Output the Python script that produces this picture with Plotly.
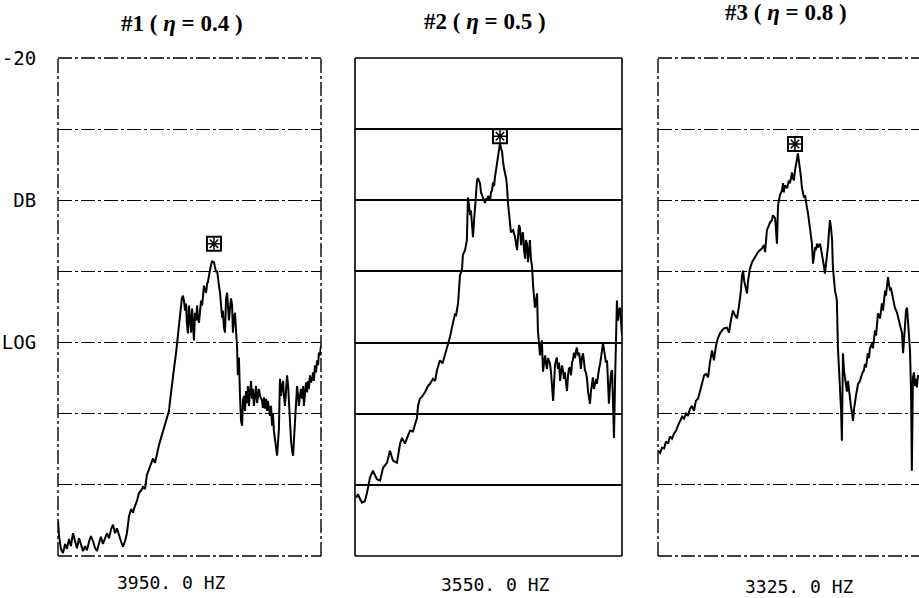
import plotly.graph_objects as go

# ---------------- data (x: % of analyser span, y: level in dB) ----------------
p1_x = [0.0, 0.4, 1.1, 1.9, 2.7, 3.4, 4.2, 4.9, 5.7, 6.5, 7.2, 8.0, 8.7, 9.5, 10.3, 11.0, 11.8, 12.5, 13.3, 14.1,
        14.8, 15.6, 16.3, 17.1, 17.9, 18.6, 19.4, 20.2, 20.9, 21.7, 22.4, 23.2, 24.0, 24.7, 25.5, 26.2, 27.0, 27.8,
        28.5, 29.3, 30.0, 30.8, 31.6, 32.3, 33.1, 33.8, 34.6, 35.3, 36.1, 36.9, 37.6, 38.4, 39.1, 39.9, 40.7, 41.4,
        42.2, 42.6, 43.0, 43.3, 44.1, 44.9, 45.6, 46.4, 46.8, 47.1, 47.5, 47.9, 48.3, 48.7, 49.0, 49.4, 49.8, 50.2,
        50.6, 51.0, 51.3, 51.7, 52.1, 52.5, 52.9, 53.2, 53.6, 54.0, 54.4, 54.8, 55.1, 55.5, 55.9, 56.3, 56.7, 57.0,
        57.4, 57.8, 58.2, 58.6, 58.9, 59.3, 59.7, 60.1, 60.5, 60.8, 61.2, 61.6, 62.0, 62.4, 62.7, 63.1, 63.5, 63.9,
        64.3, 64.6, 65.0, 65.4, 65.8, 66.2, 66.5, 66.9, 67.3, 67.7, 68.1, 68.4, 68.8, 69.2, 69.6, 70.0, 70.3, 70.7,
        71.1, 71.5, 71.9, 72.2, 72.6, 73.0, 73.4, 73.8, 74.1, 74.5, 74.9, 75.3, 75.7, 76.0, 76.4, 76.8, 77.6, 77.9,
        78.3, 78.7, 79.1, 79.5, 79.8, 80.6, 81.0, 81.4, 81.7, 82.1, 82.5, 82.9, 83.3, 83.7, 84.0, 84.4, 84.8, 85.2,
        85.6, 85.9, 86.3, 86.7, 87.1, 87.5, 87.8, 88.2, 88.6, 89.0, 89.4, 89.7, 90.1, 90.5, 90.9, 91.3, 91.6, 92.0,
        92.4, 92.8, 93.2, 93.5, 93.9, 94.3, 94.7, 95.1, 95.4, 95.8, 96.2, 96.6, 97.0, 97.3, 97.7, 98.1, 98.5, 98.9,
        99.2, 99.6, 100.0]
p1_db = [-85.1, -87.2, -89.0, -89.6, -88.3, -89.0, -87.6, -88.6, -86.8, -87.9, -88.9, -87.5, -88.3, -89.3, -88.6,
         -89.2, -88.0, -87.2, -87.9, -88.9, -89.3, -88.2, -87.3, -88.3, -87.6, -86.8, -87.5, -86.2, -85.6, -86.8,
         -86.1, -87.2, -88.0, -88.7, -87.9, -86.8, -84.4, -83.4, -83.9, -82.9, -82.3, -81.1, -80.8, -80.3, -80.6,
         -78.6, -77.7, -76.9, -76.3, -76.9, -75.5, -74.4, -73.5, -72.4, -71.4, -70.7, -69.6, -68.2, -66.8, -65.6,
         -63.7, -61.4, -59.0, -56.6, -54.8, -53.8, -53.4, -54.1, -55.5, -54.5, -57.2, -58.7, -54.8, -56.6, -58.6,
         -55.2, -57.6, -59.7, -55.8, -56.9, -54.8, -56.6, -57.2, -55.5, -54.1, -54.8, -53.0, -52.0, -52.7, -53.0,
         -51.7, -51.5, -50.6, -49.6, -49.1, -48.5, -48.7, -48.7, -49.3, -50.1, -49.9, -51.3, -52.0, -53.0, -54.8,
         -56.5, -55.5, -57.9, -58.6, -53.8, -53.0, -54.8, -56.9, -55.2, -53.8, -54.8, -58.6, -56.6, -55.8, -58.3,
         -60.8, -64.6, -62.1, -67.5, -71.0, -71.7, -68.2, -67.5, -69.6, -66.8, -68.5, -66.1, -68.9, -67.0, -65.4,
         -67.9, -66.5, -68.9, -67.5, -66.1, -68.5, -67.6, -66.5, -67.5, -68.2, -69.2, -67.7, -69.3, -67.9, -69.6,
         -68.2, -70.3, -68.9, -71.7, -69.9, -72.4, -73.8, -74.9, -75.9, -73.8, -72.1, -65.1, -67.5, -66.1, -65.4,
         -67.5, -68.9, -66.8, -64.6, -66.1, -68.9, -71.0, -73.8, -75.2, -75.9, -73.8, -71.0, -68.2, -66.1, -67.5,
         -68.9, -67.5, -66.5, -67.9, -66.1, -68.9, -67.5, -65.6, -67.0, -65.4, -66.5, -64.6, -65.6, -65.1, -64.2,
         -65.4, -63.2, -64.2, -62.5, -63.2, -61.4, -61.8, -60.4]

p2_x = [0.4, 1.1, 1.9, 2.6, 3.7, 4.5, 5.6, 6.7, 8.2, 9.4, 10.5, 12.0, 13.1, 14.2, 15.7, 16.9, 17.6, 18.7, 19.5,
        20.6, 21.7, 23.2, 23.6, 24.3, 25.1, 26.2, 27.3, 28.1, 29.2, 30.0, 30.7, 31.8, 32.8, 33.7, 34.5, 35.6, 36.3,
        37.5, 37.8, 38.6, 39.3, 40.1, 40.4, 41.2, 41.9, 42.3, 42.7, 43.1, 43.4, 43.8, 44.2, 44.6, 44.9, 45.3, 45.7,
        46.1, 46.8, 47.2, 47.9, 48.7, 49.1, 49.4, 49.8, 50.6, 50.9, 51.3, 51.7, 52.1, 52.4, 52.8, 53.2, 53.6, 53.9,
        54.3, 54.7, 55.1, 55.4, 55.8, 56.6, 56.9, 57.3, 57.7, 58.0, 58.4, 59.2, 59.9, 60.7, 61.0, 61.4, 61.8, 62.2,
        62.5, 62.9, 63.3, 63.7, 64.0, 64.4, 64.8, 65.2, 65.5, 65.9, 66.3, 66.7, 67.0, 67.4, 67.8, 68.2, 68.5, 68.9,
        69.3, 69.7, 70.0, 70.4, 70.8, 71.2, 71.5, 71.9, 72.3, 72.7, 73.0, 73.4, 73.8, 74.2, 74.5, 74.9, 75.3, 75.6,
        76.0, 76.4, 76.8, 77.1, 77.5, 77.9, 78.3, 78.6, 79.4, 79.8, 80.1, 80.5, 80.9, 81.3, 81.6, 82.0, 82.4, 82.8,
        83.1, 83.5, 83.9, 84.3, 84.6, 85.0, 85.4, 85.8, 86.1, 86.5, 86.9, 87.3, 87.6, 88.0, 88.4, 88.8, 89.1, 89.5,
        89.9, 90.3, 90.6, 91.0, 91.4, 91.8, 92.1, 92.5, 92.9, 93.3, 93.6, 94.0, 94.4, 94.8, 95.1, 95.5, 95.9, 96.3,
        96.6, 97.0, 97.4, 97.8, 98.1, 98.5, 98.9, 99.3, 99.6, 100.0]
p2_db = [-81.8, -81.3, -82.0, -82.5, -82.3, -81.1, -79.0, -78.0, -79.2, -79.4, -77.6, -76.9, -75.2, -76.6, -76.9,
         -74.2, -73.4, -74.2, -73.4, -72.4, -72.5, -70.6, -68.9, -67.9, -67.6, -67.0, -66.1, -65.8, -65.1, -65.4,
         -63.9, -62.5, -62.9, -61.8, -60.7, -59.2, -57.9, -55.9, -56.3, -54.5, -50.6, -49.6, -47.7, -47.0, -45.6,
         -39.6, -40.7, -42.1, -41.4, -43.5, -45.2, -42.8, -41.7, -39.3, -37.2, -36.9, -37.6, -38.9, -39.6, -40.4,
         -39.7, -40.0, -39.4, -40.0, -38.9, -38.6, -37.5, -38.0, -36.8, -35.8, -34.4, -33.2, -32.4, -32.0, -32.7,
         -33.2, -34.4, -35.5, -36.9, -37.9, -40.4, -42.1, -43.8, -44.5, -44.2, -45.1, -47.0, -45.2, -43.5, -43.9,
         -46.3, -44.9, -44.5, -47.0, -48.2, -45.6, -46.1, -48.7, -46.8, -45.6, -48.3, -49.2, -52.0, -54.1, -55.1,
         -54.1, -53.1, -58.3, -60.4, -61.8, -60.4, -59.7, -64.1, -63.2, -61.8, -62.8, -63.7, -62.2, -62.8, -62.9,
         -64.1, -66.1, -68.2, -66.1, -63.2, -62.5, -62.1, -63.7, -62.8, -65.4, -64.2, -63.2, -63.9, -65.1, -64.2,
         -66.8, -64.6, -63.7, -63.5, -64.6, -62.8, -62.5, -61.4, -62.2, -61.1, -60.7, -61.8, -61.4, -62.5, -63.7,
         -62.2, -61.5, -62.8, -63.9, -64.2, -65.1, -66.9, -67.9, -68.6, -66.8, -65.6, -64.9, -66.5, -65.6, -65.1,
         -65.8, -64.2, -63.7, -63.0, -62.0, -61.1, -60.1, -61.1, -61.8, -62.8, -62.5, -65.4, -68.6, -66.1, -64.2,
         -63.9, -68.2, -73.4, -65.4, -59.7, -54.1, -56.9, -55.5, -55.1, -56.9, -59.0]

p3_x = [0.0, 0.8, 1.5, 2.3, 3.0, 3.8, 4.5, 5.3, 6.0, 6.8, 7.5, 8.3, 9.1, 9.8, 10.6, 11.3, 12.1, 12.8, 13.6, 14.3,
        15.1, 15.9, 16.6, 17.4, 18.1, 18.9, 19.6, 20.4, 21.1, 21.9, 22.6, 23.4, 24.2, 24.9, 26.0, 26.8, 27.5, 28.3,
        29.1, 29.8, 30.6, 31.3, 31.7, 32.1, 32.5, 33.2, 33.6, 34.0, 34.7, 35.5, 36.2, 37.0, 37.7, 38.5, 39.2, 40.0,
        40.4, 40.8, 41.1, 41.9, 42.3, 43.0, 43.4, 44.2, 44.5, 44.9, 45.3, 45.7, 46.0, 46.8, 47.2, 47.5, 47.9, 48.7,
        49.4, 49.8, 50.2, 50.6, 50.9, 51.3, 51.7, 52.1, 52.5, 52.8, 53.2, 53.6, 54.0, 54.3, 54.7, 55.1, 55.5, 55.9,
        56.2, 56.6, 57.0, 57.4, 57.7, 58.1, 58.5, 58.9, 59.3, 59.6, 60.0, 60.4, 60.8, 61.1, 61.5, 61.9, 62.3, 62.6,
        63.0, 63.4, 63.8, 64.2, 64.5, 64.9, 65.3, 65.7, 66.0, 66.4, 66.8, 67.2, 67.5, 67.9, 68.3, 68.7, 69.1, 69.4,
        69.8, 70.2, 70.6, 70.9, 71.3, 71.7, 72.1, 72.5, 72.8, 73.2, 73.6, 74.0, 74.3, 74.7, 75.5, 76.2, 77.0, 77.7,
        78.1, 78.5, 79.2, 79.6, 80.0, 80.8, 81.1, 81.9, 82.3, 83.0, 83.8, 84.5, 84.9, 85.7, 86.0, 86.4, 86.8, 87.2,
        87.6, 87.9, 88.3, 88.7, 89.1, 89.4, 90.2, 90.6, 91.3, 92.1, 92.5, 92.8, 93.2, 93.6, 94.0, 94.3, 94.7, 95.1,
        95.5, 95.8, 96.2, 96.6, 97.0, 97.4, 97.7, 98.1, 98.5]
p3_db = [-75.2, -75.5, -74.8, -74.9, -73.9, -74.2, -73.2, -73.5, -72.8, -72.4, -71.7, -71.0, -70.4, -70.7, -70.0,
         -70.3, -69.3, -68.9, -69.6, -68.2, -67.9, -66.8, -65.8, -64.6, -64.4, -64.9, -62.8, -61.1, -62.5, -60.4,
         -59.4, -58.7, -58.3, -58.0, -57.9, -58.6, -56.9, -55.5, -56.2, -56.6, -54.8, -52.7, -50.6, -49.9, -51.3,
         -52.7, -53.1, -51.3, -49.6, -48.7, -48.2, -47.7, -47.3, -47.0, -46.8, -46.3, -47.3, -45.6, -44.2, -43.5,
         -43.1, -42.8, -42.1, -42.5, -44.2, -46.1, -40.7, -40.0, -39.3, -38.6, -37.6, -38.9, -37.9, -38.3, -37.2,
         -37.6, -36.5, -36.1, -36.9, -37.2, -35.8, -34.6, -34.1, -33.4, -34.4, -35.8, -36.9, -38.2, -39.0, -39.6,
         -39.3, -40.7, -41.0, -41.8, -43.1, -44.2, -45.4, -46.1, -48.9, -47.7, -46.6, -47.0, -46.1, -46.6, -46.3,
         -46.1, -46.8, -47.5, -48.2, -49.2, -50.3, -49.2, -48.0, -46.3, -44.5, -42.8, -43.9, -45.6, -49.4, -51.3,
         -52.7, -53.4, -54.1, -60.7, -63.2, -65.8, -69.6, -73.8, -61.5, -64.0, -65.1, -66.2, -66.9, -65.4, -67.0,
         -67.7, -68.9, -69.9, -71.0, -69.3, -68.2, -67.5, -65.8, -65.4, -64.4, -63.9, -63.0, -63.5, -61.5, -62.2,
         -60.8, -60.1, -60.8, -58.3, -59.0, -55.9, -56.6, -54.5, -55.5, -52.7, -53.4, -51.5, -50.8, -51.9, -52.7,
         -52.3, -53.1, -53.8, -54.4, -55.1, -55.8, -56.5, -57.6, -58.7, -61.5, -59.7, -57.3, -55.5, -55.1, -56.9,
         -59.0, -61.1, -66.8, -78.0, -64.9, -64.2, -66.1, -65.1, -66.3, -64.6, -64.9]

peak_x = [59.3, 54.3, 51.7]
peak_db = [-46.1, -31.0, -32.1]

titles = ["#1 ( <i>η</i> = 0.4 )", "#2 ( <i>η</i> = 0.5 )", "#3 ( <i>η</i> = 0.8 )"]
freq_labels = ["3950. 0 HZ", "3550. 0 HZ", "3325. 0 HZ"]
y_tickvals = [-90, -80, -70, -60, -50, -40, -30, -20]
y_ticktext = ["", "", "", "LOG", "", "DB", "", "-20"]

series_x = [p1_x, p2_x, p3_x]
series_y = [p1_db, p2_db, p3_db]

# ---------------- layout geometry ----------------
W, H = 919, 598
x_domains = [[58 / W, 321 / W], [355 / W, 622 / W], [658 / W, 1.0]]
y_domain = [1 - 556 / H, 1 - 58 / H]
x_ranges = [[0, 100], [0, 100], [0, 98.5]]
DASHDOT = "14px,3px,3px,3px"
grid_dash = [DASHDOT, "solid", DASHDOT]
grid_w = [1.4, 1.6, 1.4]
# frame sides drawn per panel (domain coords): panel 3 runs off the right edge
frame_sides = [["top", "bottom", "left", "right"], ["top", "bottom", "left", "right"], ["top", "bottom", "left"]]
side_coords = {"top": (0, 1, 1, 1), "bottom": (0, 0, 1, 0), "left": (0, 0, 0, 1), "right": (1, 0, 1, 1)}
title_pos = [(182, 24), (485, 22), (786, 13)]
freq_pos = [(171, 582), (495, 584), (799, 586)]

fig = go.Figure()
for i in range(3):
    ax = "" if i == 0 else str(i + 1)
    fig.add_trace(go.Scatter(x=series_x[i], y=series_y[i], mode="lines",
                             line=dict(color="black", width=2),
                             xaxis="x" + ax, yaxis="y" + ax, showlegend=False,
                             hoverinfo="skip"))
    fig.add_trace(go.Scatter(x=[peak_x[i]], y=[peak_db[i]], mode="markers",
                             marker=dict(symbol="square-open", size=14, color="black",
                                         line=dict(width=2, color="black")),
                             xaxis="x" + ax, yaxis="y" + ax, showlegend=False))
    fig.add_trace(go.Scatter(x=[peak_x[i]], y=[peak_db[i]], mode="markers",
                             marker=dict(symbol="asterisk-open", size=10, color="black",
                                         line=dict(width=1.5, color="black")),
                             xaxis="x" + ax, yaxis="y" + ax, showlegend=False))

    fig.layout["xaxis" + ax] = dict(
        domain=x_domains[i], range=x_ranges[i], anchor="y" + ax,
        showticklabels=False, showgrid=False,
        zeroline=False, showline=False, ticks="", fixedrange=True)
    fig.layout["yaxis" + ax] = dict(
        domain=y_domain, range=[-90, -20], anchor="x" + ax,
        tickmode="array", tickvals=y_tickvals, ticktext=y_ticktext,
        showticklabels=(i == 0),
        ticks="outside" if i == 0 else "", ticklen=17, tickcolor="rgba(0,0,0,0)",
        tickfont=dict(family="DejaVu Sans Mono", size=19, color="black"),
        showgrid=True, gridcolor="black", gridwidth=grid_w[i], griddash=grid_dash[i],
        zeroline=False, showline=False, fixedrange=True)

    for side in frame_sides[i]:
        x0, y0, x1, y1 = side_coords[side]
        fig.add_shape(type="line", xref="x" + ax + " domain", yref="y" + ax + " domain",
                      x0=x0, y0=y0, x1=x1, y1=y1,
                      line=dict(color="black", width=grid_w[i], dash=grid_dash[i]))

    fig.add_annotation(text="<b>" + titles[i] + "</b>", xref="paper", yref="paper",
                       x=title_pos[i][0] / W, y=1 - title_pos[i][1] / H,
                       xanchor="center", yanchor="middle", showarrow=False,
                       font=dict(family="Liberation Serif", size=23, color="black"))
    fig.add_annotation(text=freq_labels[i], xref="paper", yref="paper",
                       x=freq_pos[i][0] / W, y=1 - freq_pos[i][1] / H,
                       xanchor="center", yanchor="middle", showarrow=False,
                       font=dict(family="DejaVu Sans Mono", size=18, color="black"))

fig.update_layout(width=W, height=H, autosize=False,
                  margin=dict(l=0, r=0, t=0, b=0, pad=0),
                  paper_bgcolor="white", plot_bgcolor="white",
                  template="none", showlegend=False)

fig.write_html("out.html", config={"displayModeBar": False},
               post_script="document.body.style.margin='0px';document.body.style.overflow='hidden';")
